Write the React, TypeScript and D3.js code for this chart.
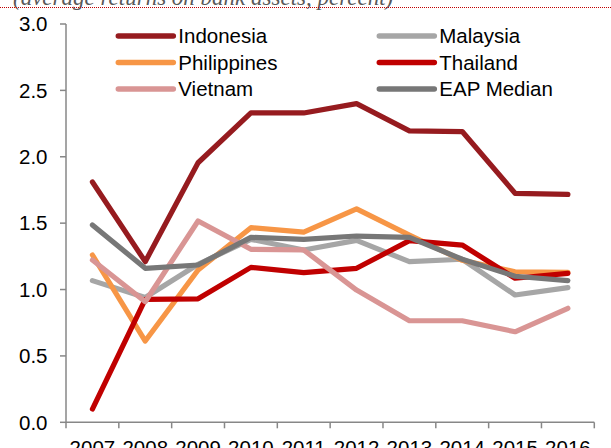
import React from "react";
import * as d3 from "d3";

const years = ["2007","2008","2009","2010","2011","2012","2013","2014","2015","2016"];
const yTicks = [0, 0.5, 1.0, 1.5, 2.0, 2.5, 3.0];

const indonesia = [1.81, 1.21, 1.955, 2.33, 2.33, 2.40, 2.195, 2.19, 1.725, 1.717];
const malaysia = [1.067, 0.94, 1.19, 1.378, 1.298, 1.37, 1.21, 1.228, 0.959, 1.014];
const philippines = [1.26, 0.612, 1.147, 1.466, 1.433, 1.607, 1.41, 1.22, 1.134, 1.13];
const thailand = [0.10, 0.926, 0.93, 1.167, 1.127, 1.16, 1.368, 1.335, 1.085, 1.122];
const vietnam = [1.222, 0.908, 1.516, 1.303, 1.298, 0.996, 0.765, 0.765, 0.682, 0.859];
const eapMedian = [1.486, 1.16, 1.185, 1.393, 1.378, 1.403, 1.393, 1.228, 1.10, 1.067];

const seriesNames = ["Indonesia","Malaysia","Philippines","Thailand","Vietnam","EAP Median"];
const seriesValues = [indonesia, malaysia, philippines, thailand, vietnam, eapMedian];
const seriesColors = ["#961B1F","#A6A6A6","#F79646","#C00000","#D99594","#777777"];

const W = 611, H = 448;
const FONT = "'Liberation Sans', Arial, sans-serif";

export default function App() {
  const x = d3.scaleBand<string>().domain(years).range([66, 594.3]).padding(0);
  const y = d3.scaleLinear().domain([0, 3]).range([422.3, 24]);
  const cx = (yr: string) => (x(yr) as number) + x.bandwidth() / 2;
  const line = d3.line<number>().x((_, i) => cx(years[i])).y(v => y(v));
  const axisColor = "#878787";
  const bounds = years.map(yr => x(yr) as number).concat([594.3]);

  const legendCols = [118.3, 379.3];
  const legendRows = [36, 62.5, 89];

  return (
    <svg width={W} height={H} style={{ position: "absolute", left: 0, top: 0, background: "#fff" }}>
      <rect width={W} height={H} fill="#fff" />
      <text x={13} y={4.5} fontFamily="'Liberation Serif', 'Times New Roman', serif" fontStyle="italic" fontSize={23} fill="#595959">
        (average returns on bank assets, percent)
      </text>
      <line x1={0} x2={W} y1={7.5} y2={7.5} stroke="#C00000" strokeWidth={1} strokeDasharray="1,1" />

      {/* y axis */}
      <line x1={66} x2={66} y1={y(3)} y2={y(0)} stroke={axisColor} strokeWidth={1.5} />
      {yTicks.map(t => (
        <g key={t}>
          <line x1={60} x2={66} y1={y(t)} y2={y(t)} stroke={axisColor} strokeWidth={1.5} />
          <text x={47.5} y={y(t) + 7.2} textAnchor="end" fontFamily={FONT} fontSize={20.5} fill="#000">
            {t.toFixed(1)}
          </text>
        </g>
      ))}

      {/* x axis */}
      <line x1={66} x2={594.3} y1={y(0)} y2={y(0)} stroke={axisColor} strokeWidth={1.5} />
      {bounds.map((b, i) => (
        <line key={i} x1={b} x2={b} y1={y(0)} y2={y(0) + 6} stroke={axisColor} strokeWidth={1.5} />
      ))}
      {years.map(yr => (
        <text key={yr} x={cx(yr)} y={454.5} textAnchor="middle" fontFamily={FONT} fontSize={20.5} fill="#000">
          {yr}
        </text>
      ))}

      {/* lines */}
      {seriesValues.map((vals, i) => (
        <path key={seriesNames[i]} d={line(vals) || ""} fill="none" stroke={seriesColors[i]} strokeWidth={5.2}
          strokeLinecap="round" strokeLinejoin="round" />
      ))}

      {/* legend */}
      {seriesNames.map((name, i) => {
        const col = i % 2, row = Math.floor(i / 2);
        const lx = legendCols[col], ly = legendRows[row];
        return (
          <g key={name}>
            <line x1={lx} x2={lx + 55} y1={ly} y2={ly} stroke={seriesColors[i]} strokeWidth={5.5} strokeLinecap="round" />
            <text x={lx + 60} y={ly + 7.3} fontFamily={FONT} fontSize={20.5} fill="#000">{name}</text>
          </g>
        );
      })}
    </svg>
  );
}
